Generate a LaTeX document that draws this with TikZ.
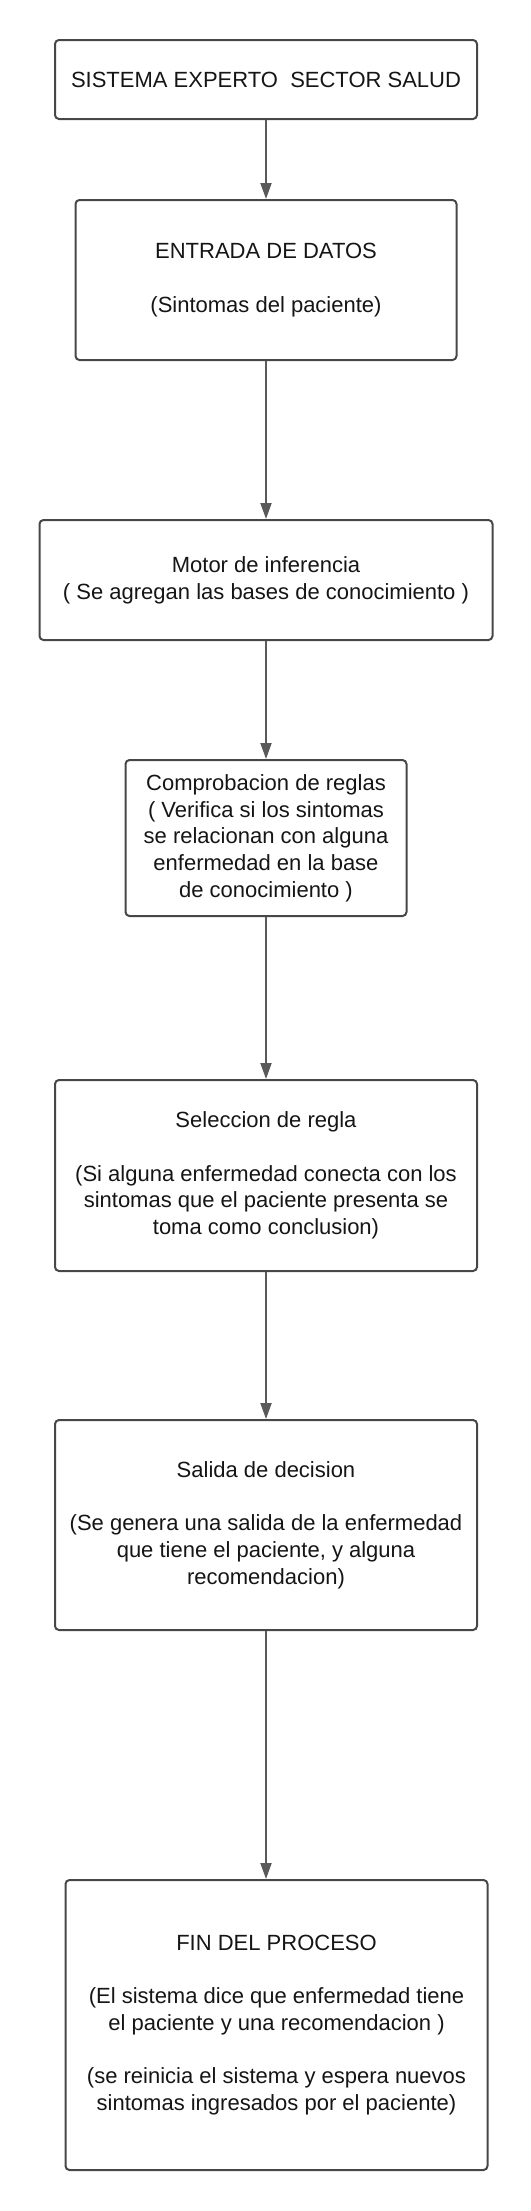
\documentclass[tikz,border=0pt]{standalone}
\usepackage{fontspec}
\setmainfont{Liberation Sans}
\usetikzlibrary{arrows.meta}
\definecolor{borde}{HTML}{474747}
\definecolor{flecha}{HTML}{5A5A5A}
\definecolor{texto}{HTML}{151515}

\begin{document}
\begin{tikzpicture}[x=1pt,y=1pt,
                caja/.style={draw=borde,line width=2pt,rounded corners=4pt,align=center,
                    text=texto,font=\fontsize{22}{26.7}\selectfont,inner sep=0pt},
                flujo/.style={draw=flecha,line width=2pt,-{Triangle[width=11pt,length=16pt]}}]
                \useasboundingbox (0,0) rectangle (530,-2211);
                \node[caja,minimum width=422,minimum height=79] (inicio) at (266,-79.5)
                    {SISTEMA EXPERTO\ \ SECTOR SALUD};
                \node[caja,minimum width=381,minimum height=160] (entrada) at (266,-280)
                    {ENTRADA DE DATOS\\[26.7pt](Sintomas del paciente)};
                \node[caja,minimum width=453,minimum height=120] (motor) at (266,-580)
                    {Motor de inferencia\\( Se agregan las bases de conocimiento )};
                \node[caja,minimum width=281,minimum height=156] (reglas) at (266,-838)
                    {Comprobacion de reglas\\( Verifica si los sintomas\\se relacionan con alguna\\enfermedad en la base\\de conocimiento )};
                \node[caja,minimum width=422,minimum height=191] (seleccion) at (266,-1175.5)
                    {Seleccion de regla\\[26.7pt](Si alguna enfermedad conecta con los\\sintomas que el paciente presenta se\\toma como conclusion)};
                \node[caja,minimum width=422,minimum height=210] (salida) at (266,-1525)
                    {Salida de decision\\[26.7pt](Se genera una salida de la enfermedad\\que tiene el paciente, y alguna\\recomendacion)};
                \node[caja,minimum width=422,minimum height=290] (fin) at (276.5,-2025)
                    {FIN DEL PROCESO\\[26.7pt](El sistema dice que enfermedad tiene\\el paciente y una recomendacion )\\[26.7pt](se reinicia el sistema y espera nuevos\\sintomas ingresados por el paciente)};
                \draw[flujo] (inicio) -- (entrada);
                \draw[flujo] (entrada) -- (motor);
                \draw[flujo] (motor) -- (reglas);
                \draw[flujo] (reglas) -- (seleccion);
                \draw[flujo] (seleccion) -- (salida);
                \draw[flujo] (salida.south) -- (salida.south |- fin.north);
            \end{tikzpicture}
\end{document}
